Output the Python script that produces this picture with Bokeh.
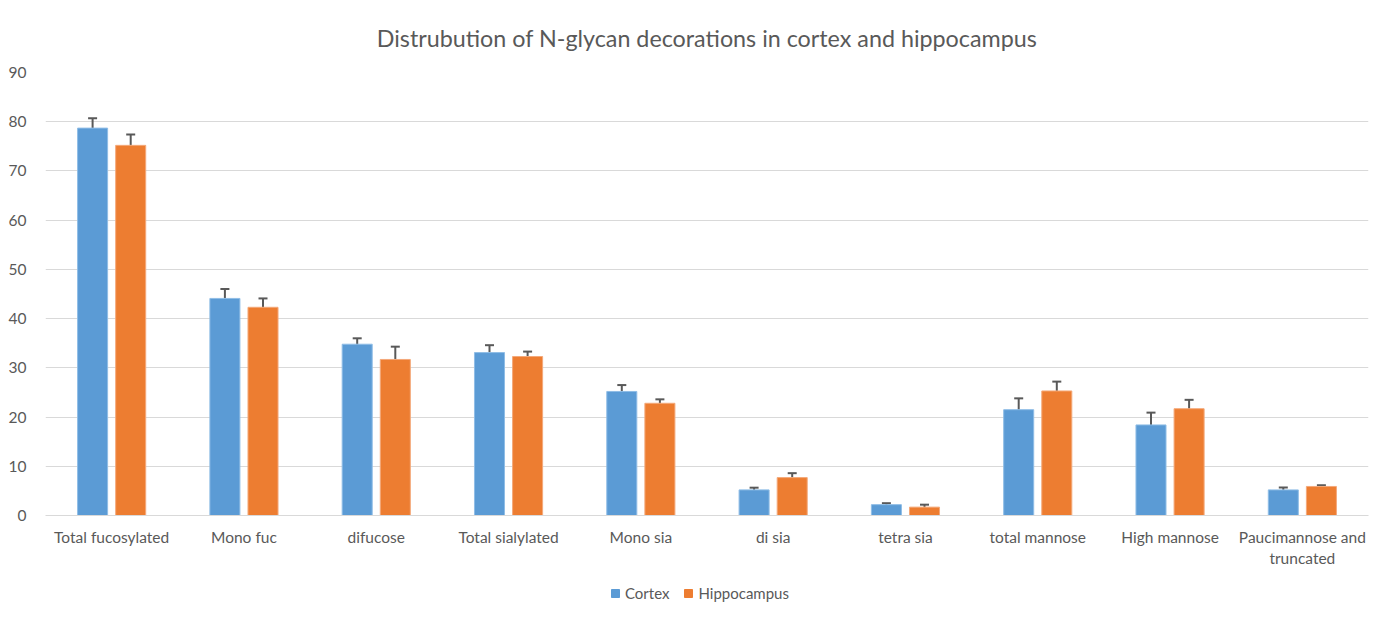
from bokeh.plotting import figure
from bokeh.layouts import column
from bokeh.models import ColumnDataSource, FactorRange, Whisker, TeeHead, Legend, LegendItem, SingleIntervalTicker
from bokeh.transform import dodge
from bokeh.embed import file_html
from bokeh.resources import INLINE

categories = ["Total fucosylated", "Mono fuc", "difucose", "Total sialylated", "Mono sia",
              "di sia", "tetra sia", "total mannose", "High mannose", "Paucimannose and\ntruncated"]
cortex = [78.7, 44.1, 34.8, 33.1, 25.2, 5.2, 2.2, 21.5, 18.4, 5.2]
cortex_err = [2.0, 1.9, 1.2, 1.5, 1.3, 0.45, 0.3, 2.3, 2.5, 0.5]
hippocampus = [75.2, 42.3, 31.7, 32.3, 22.8, 7.7, 1.7, 25.3, 21.7, 5.9]
hippocampus_err = [2.2, 1.8, 2.6, 1.0, 0.8, 0.9, 0.5, 1.9, 1.8, 0.25]
series_names = ["Cortex", "Hippocampus"]
series_colors = ["#5B9BD5", "#ED7D31"]

FONT = "Lato"
GREY = "#595959"

src = ColumnDataSource(dict(
    cat=categories,
    cortex=cortex,
    c_lo=[v - e for v, e in zip(cortex, cortex_err)],
    c_hi=[v + e for v, e in zip(cortex, cortex_err)],
    hippo=hippocampus,
    h_lo=[v - e for v, e in zip(hippocampus, hippocampus_err)],
    h_hi=[v + e for v, e in zip(hippocampus, hippocampus_err)],
))

p = figure(x_range=FactorRange(*categories, range_padding=0), y_range=(0, 90),
           width=1373, height=575, output_backend="svg", toolbar_location=None,
           title="Distrubution of N-glycan decorations in cortex and hippocampus",
           min_border_left=45, min_border_right=5, min_border_top=72, min_border_bottom=60)

p.title.align = "center"
p.title.offset = -10
p.title.text_font = FONT
p.title.text_font_size = "23.3px"
p.title.text_font_style = "normal"
p.title.text_color = GREY
p.title.standoff = 42

p.vbar(x=dodge("cat", -0.144, range=p.x_range), top="cortex", width=0.227, source=src,
       fill_color=series_colors[0], line_color="#8FBDE6", line_width=1)
p.vbar(x=dodge("cat", 0.144, range=p.x_range), top="hippo", width=0.227, source=src,
       fill_color=series_colors[1], line_color="#F4A97A", line_width=1)

for off, lo, hi in [(-0.144, "c_lo", "c_hi"), (0.144, "h_lo", "h_hi")]:
    w = Whisker(source=src, base=dodge("cat", off, range=p.x_range), lower=lo, upper=hi,
                line_color=GREY, line_width=2,
                upper_head=TeeHead(size=9, line_color=GREY, line_width=2),
                lower_head=TeeHead(size=9, line_color=GREY, line_width=2))
    p.add_layout(w)

p.xgrid.grid_line_color = None
p.ygrid.grid_line_color = "#D9D9D9"
p.ygrid.grid_line_width = 1
p.yaxis.ticker = SingleIntervalTicker(interval=10)
p.outline_line_color = None

for ax in (p.xaxis, p.yaxis):
    ax.major_tick_line_color = None
    ax.minor_tick_line_color = None
    ax.major_label_text_font = FONT
    ax.major_label_text_font_size = "15.5px"
    ax.major_label_text_color = GREY
p.yaxis.axis_line_color = None
p.xaxis.axis_line_color = "#D9D9D9"
p.xaxis.major_label_standoff = 6
p.yaxis.major_label_standoff = 13

# legend strip below the chart (swatch glyphs lie outside the strip's visible range)
lf = figure(width=1373, height=35, output_backend="svg", toolbar_location=None,
            x_range=(0, 1), y_range=(0, 1), min_border=0)
lf.axis.visible = False
lf.grid.visible = False
lf.outline_line_color = None
items = []
for name, col in zip(series_names, series_colors):
    r = lf.quad(left=[5], right=[6], top=[6], bottom=[5], fill_color=col, line_color=col)
    items.append(LegendItem(label=name, renderers=[r]))
legend = Legend(items=items, orientation="horizontal", location=(565, 8),
                border_line_color=None, background_fill_alpha=0,
                label_text_font=FONT, label_text_font_size="15px",
                label_text_color=GREY, glyph_width=10, glyph_height=10, spacing=14,
                label_standoff=5, margin=0, padding=0)
lf.add_layout(legend, "center")

layout = column(p, lf, spacing=0)
open("out.html", "w").write(file_html(layout, INLINE))
